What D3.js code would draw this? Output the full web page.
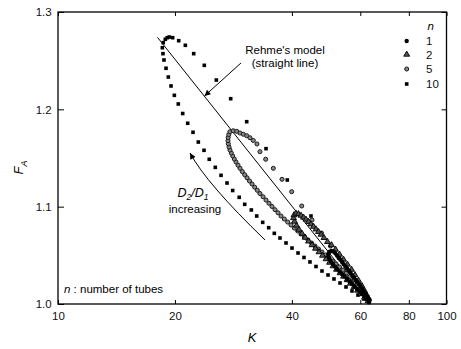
<!DOCTYPE html>
<html><head><meta charset="utf-8">
<script src="https://cdn.jsdelivr.net/npm/d3@7"></script>
<style>body{margin:0;background:#fff}svg{display:block;font-family:"Liberation Sans",Arial,sans-serif}</style>
</head><body><svg id="c" width="461" height="349"></svg>
<script>
// ---------- data ----------
const xTicks = [10, 20, 40, 60, 80, 100];
const yTicks = [1.0, 1.1, 1.2, 1.3];
const yTickLabels = ["1.0", "1.1", "1.2", "1.3"];
const seriesNames = ["1", "2", "5", "10"];

// n = 1 tube (filled circles)
const n1K = [63.17,62.43,61.50,60.61,59.71,58.83,57.97,57.12,56.27,55.45,54.64,53.83,53.04,52.25,51.58,50.97,50.43,49.98,49.69,49.64,49.92,50.52,51.18,51.74,52.25,52.79,53.32,53.86,54.40,54.95,55.51,56.08,56.65,57.21,57.80,58.38,58.98,59.57,60.17,60.79,61.40,62.02,62.62,63.17];
const n1F = [1.0026,1.0051,1.0077,1.0103,1.0128,1.0154,1.0180,1.0205,1.0231,1.0257,1.0283,1.0308,1.0334,1.0360,1.0385,1.0411,1.0437,1.0462,1.0488,1.0514,1.0534,1.0545,1.0539,1.0522,1.0499,1.0477,1.0454,1.0432,1.0409,1.0386,1.0364,1.0341,1.0318,1.0295,1.0271,1.0248,1.0224,1.0200,1.0177,1.0152,1.0127,1.0103,1.0077,1.0051];

// n = 2 tubes (triangles)
const n2K = [62.79,61.50,60.24,59.01,57.80,56.61,55.45,54.31,53.20,52.11,51.04,49.98,48.96,47.95,46.97,46.01,45.06,44.14,43.28,42.47,41.72,41.10,40.62,40.38,40.51,40.98,41.59,42.22,42.85,43.49,44.14,44.79,45.47,46.14,46.83,47.54,48.38,49.39,50.58,51.80,53.04,54.31,55.61,56.95,58.14,59.36,60.61,61.69,62.62];
const n2F = [1.0031,1.0067,1.0103,1.0139,1.0175,1.0211,1.0247,1.0283,1.0318,1.0354,1.0390,1.0426,1.0462,1.0498,1.0534,1.0570,1.0606,1.0644,1.0683,1.0724,1.0765,1.0807,1.0848,1.0884,1.0914,1.0930,1.0925,1.0909,1.0889,1.0868,1.0845,1.0820,1.0795,1.0768,1.0742,1.0714,1.0680,1.0639,1.0606,1.0560,1.0509,1.0457,1.0406,1.0354,1.0298,1.0241,1.0185,1.0128,1.0072];

// n = 5 tubes (open circles)
const n5K = [63.36,62.43,61.32,60.06,58.83,57.62,56.44,55.28,54.15,53.04,51.95,50.89,49.85,48.81,47.81,46.83,45.87,44.93,44.01,43.10,42.22,41.40,40.57,39.78,39.01,38.24,37.50,36.84,36.19,35.55,34.92,34.31,33.71,33.10,32.58,32.08,31.58,31.11,30.66,30.24,29.81,29.41,29.06,28.72,28.43,28.16,27.93,27.71,27.56,27.44,27.39,27.42,27.52,27.71,28.26,
  28.84,29.41,29.99,30.60,31.20,31.82,32.52,33.10,34.24,35.83,37.72,39.95,42.40,45.06,47.66,50.28,52.88,55.45,57.97,60.24,62.06];
const n5F = [1.0041,1.0082,1.0123,1.0164,1.0205,1.0247,1.0283,1.0318,1.0349,1.0380,1.0411,1.0442,1.0473,1.0503,1.0534,1.0565,1.0596,1.0627,1.0658,1.0688,1.0719,1.0750,1.0781,1.0812,1.0842,1.0873,1.0904,1.0937,1.0969,1.1002,1.1035,1.1068,1.1102,1.1135,1.1168,1.1200,1.1233,1.1264,1.1297,1.1328,1.1361,1.1394,1.1426,1.1459,1.1490,1.1521,1.1551,1.1582,1.1613,1.1646,1.1678,1.1711,1.1741,1.1770,1.1780,
  1.1774,1.1757,1.1744,1.1729,1.1708,1.1680,1.1644,1.1565,1.1487,1.1394,1.1281,1.1154,1.1007,1.0863,1.0729,1.0596,1.0473,1.0354,1.0247,1.0154,1.0077];

// n = 10 tubes (squares)
const n10K = [63.17,61.32,59.18,57.12,55.12,53.20,51.33,49.55,47.81,46.14,44.52,42.97,41.48,40.02,38.63,37.27,36.04,34.86,33.64,32.47,31.45,30.24,29.27,28.16,27.23,26.28,25.40,24.51,23.76,22.97,22.26,21.57,20.94,20.40,19.93,19.54,19.23,18.97,18.74,18.63,18.56,18.66,18.89,19.11,19.34,19.73,20.45,21.27,22.35,23.80,25.56,27.83,30.60,34.31,38.92,44.79];
const n10F = [1.0015,1.0051,1.0092,1.0134,1.0175,1.0216,1.0257,1.0298,1.0339,1.0385,1.0432,1.0478,1.0524,1.0575,1.0627,1.0678,1.0726,1.0784,1.0839,1.0904,1.0966,1.1024,1.1096,1.1166,1.1243,1.1322,1.1404,1.1487,1.1579,1.1664,1.1764,1.1857,1.1957,1.2055,1.2144,1.2240,1.2332,1.2422,1.2507,1.2572,1.2633,1.2685,1.2720,1.2736,1.2743,1.2736,1.2705,1.2658,1.2572,1.2452,1.2301,1.2109,1.1873,1.1596,1.1274,1.0904];

// Rehme's model (straight line on log K axis)
const rehmeK = [18.03, 63.5];
const rehmeF = [1.274, 1.0];

// annotation anchors (data units)
const rehmeArrowK = [29.58, 23.83], rehmeArrowF = [1.2476, 1.2137];
const curveArrowK = [34.10, 24.11, 21.87], curveArrowF = [1.0658, 1.1238, 1.1551];

// ---------- chart ----------
const svg = d3.select("#c");
const x = d3.scaleLog().domain([10, 100]).range([58, 446.5]);
const y = d3.scaleLinear().domain([1.0, 1.3]).range([304, 12]);
const FS = 11.5;

svg.append("defs").append("marker")
  .attr("id", "ah").attr("viewBox", "0 0 10 10").attr("refX", 10).attr("refY", 5)
  .attr("markerWidth", 7).attr("markerHeight", 6).attr("markerUnits", "userSpaceOnUse")
  .attr("orient", "auto")
  .append("path").attr("d", "M0,0L10,5L0,10z").attr("fill", "#000");

// axes
function styleAxis(g) {
  g.select(".domain").remove();
  g.selectAll("line").attr("stroke", "#000").attr("stroke-width", 1);
  g.selectAll("text").attr("font-size", FS).attr("fill", "#111").attr("font-family", '"Liberation Sans",Arial,sans-serif');
}
svg.append("g").attr("transform", "translate(0,304)")
  .call(d3.axisBottom(x).tickValues(xTicks).tickFormat(d3.format("d")).tickSizeInner(-4).tickSizeOuter(0).tickPadding(7.8))
  .call(styleAxis);
svg.append("g").attr("transform", "translate(0,12)")
  .call(d3.axisTop(x).tickValues(xTicks).tickFormat("").tickSizeInner(-4).tickSizeOuter(0))
  .call(styleAxis);
svg.append("g").attr("transform", "translate(58,0)")
  .call(d3.axisLeft(y).tickValues(yTicks).tickFormat((d, i) => yTickLabels[i]).tickSizeInner(-6).tickSizeOuter(0).tickPadding(6.3))
  .call(styleAxis);
svg.append("g").attr("transform", "translate(446.5,0)")
  .call(d3.axisRight(y).tickValues(yTicks).tickFormat("").tickSizeInner(-5).tickSizeOuter(0))
  .call(styleAxis);

// frame
svg.append("rect").attr("x", x(10)).attr("y", y(1.3))
  .attr("width", x(100) - x(10)).attr("height", y(1.0) - y(1.3))
  .attr("fill", "none").attr("stroke", "#000").attr("stroke-width", 1.3);

// axis titles
svg.append("text").attr("x", 252).attr("y", 342).attr("text-anchor", "middle")
  .attr("font-size", 13).attr("font-style", "italic").text("K");
const fa = svg.append("text").attr("transform", "translate(23,167.5) rotate(-90)")
  .attr("text-anchor", "middle").attr("font-size", 13).attr("font-style", "italic");
fa.append("tspan").text("F");
fa.append("tspan").attr("font-size", 9).attr("dy", 3.5).text("A");

// Rehme line
svg.append("path")
  .attr("d", d3.line().x((d) => x(d[0])).y((d) => y(d[1]))(d3.zip(rehmeK, rehmeF)))
  .attr("stroke", "#000").attr("stroke-width", 1).attr("fill", "none");

// series
const styles = [
  {K: n10K, F: n10F, type: d3.symbolSquare, size: 13, fill: "#000", stroke: "none", sw: 0},
  {K: n5K, F: n5F, type: d3.symbolCircle, size: 13, fill: "#888", stroke: "#1a1a1a", sw: 1},
  {K: n2K, F: n2F, type: d3.symbolTriangle, size: 15, fill: "#555", stroke: "#000", sw: 0.9},
  {K: n1K, F: n1F, type: d3.symbolCircle, size: 15, fill: "#000", stroke: "none", sw: 0}
];
styles.forEach((s) => {
  svg.append("g").selectAll("path").data(d3.zip(s.K, s.F)).join("path")
    .attr("transform", (d) => `translate(${x(d[0])},${y(d[1])})`)
    .attr("d", d3.symbol().type(s.type).size(s.size)())
    .attr("fill", s.fill).attr("stroke", s.stroke).attr("stroke-width", s.sw);
});

// legend
const legendOrder = [
  {name: seriesNames[0], st: styles[3]},
  {name: seriesNames[1], st: styles[2]},
  {name: seriesNames[2], st: styles[1]},
  {name: seriesNames[3], st: styles[0]}
];
const legY = [41, 54.5, 69, 84];
svg.append("text").attr("x", 427.5).attr("y", 30).attr("font-size", FS).attr("font-style", "italic").text("n");
legendOrder.forEach((l, i) => {
  svg.append("path").attr("transform", `translate(406.7,${legY[i]})`)
    .attr("d", d3.symbol().type(l.st.type).size(l.st.size)())
    .attr("fill", l.st.fill).attr("stroke", l.st.stroke).attr("stroke-width", l.st.sw);
  svg.append("text").attr("x", 426).attr("y", legY[i] + 4.1).attr("font-size", FS).attr("fill", "#111").text(l.name);
});

// annotations
svg.append("text").attr("x", 285).attr("y", 53.5).attr("text-anchor", "middle").attr("font-size", FS).text("Rehme's model");
svg.append("text").attr("x", 285).attr("y", 66.5).attr("text-anchor", "middle").attr("font-size", FS).text("(straight line)");
svg.append("line")
  .attr("x1", x(rehmeArrowK[0])).attr("y1", y(rehmeArrowF[0]))
  .attr("x2", x(rehmeArrowK[1])).attr("y2", y(rehmeArrowF[1]))
  .attr("stroke", "#000").attr("stroke-width", 1).attr("marker-end", "url(#ah)");

const cp = d3.zip(curveArrowK, curveArrowF).map((d) => [x(d[0]), y(d[1])]);
svg.append("path")
  .attr("d", `M${cp[0][0]},${cp[0][1]}Q${cp[1][0]},${cp[1][1]} ${cp[2][0]},${cp[2][1]}`)
  .attr("fill", "none").attr("stroke", "#000").attr("stroke-width", 1).attr("marker-end", "url(#ah)");

const dd = svg.append("text").attr("x", 193).attr("y", 197).attr("text-anchor", "middle")
  .attr("font-size", 12.5).attr("font-style", "italic");
dd.append("tspan").text("D");
dd.append("tspan").attr("font-size", 8.5).attr("dy", 3).text("2");
dd.append("tspan").attr("dy", -3).text("/D");
dd.append("tspan").attr("font-size", 8.5).attr("dy", 3).text("1");
svg.append("text").attr("x", 195).attr("y", 213).attr("text-anchor", "middle").attr("font-size", FS).text("increasing");

const nt = svg.append("text").attr("x", 64).attr("y", 293.3).attr("font-size", FS);
nt.append("tspan").attr("font-style", "italic").text("n");
nt.append("tspan").text(" : number of tubes");
</script></body></html>
